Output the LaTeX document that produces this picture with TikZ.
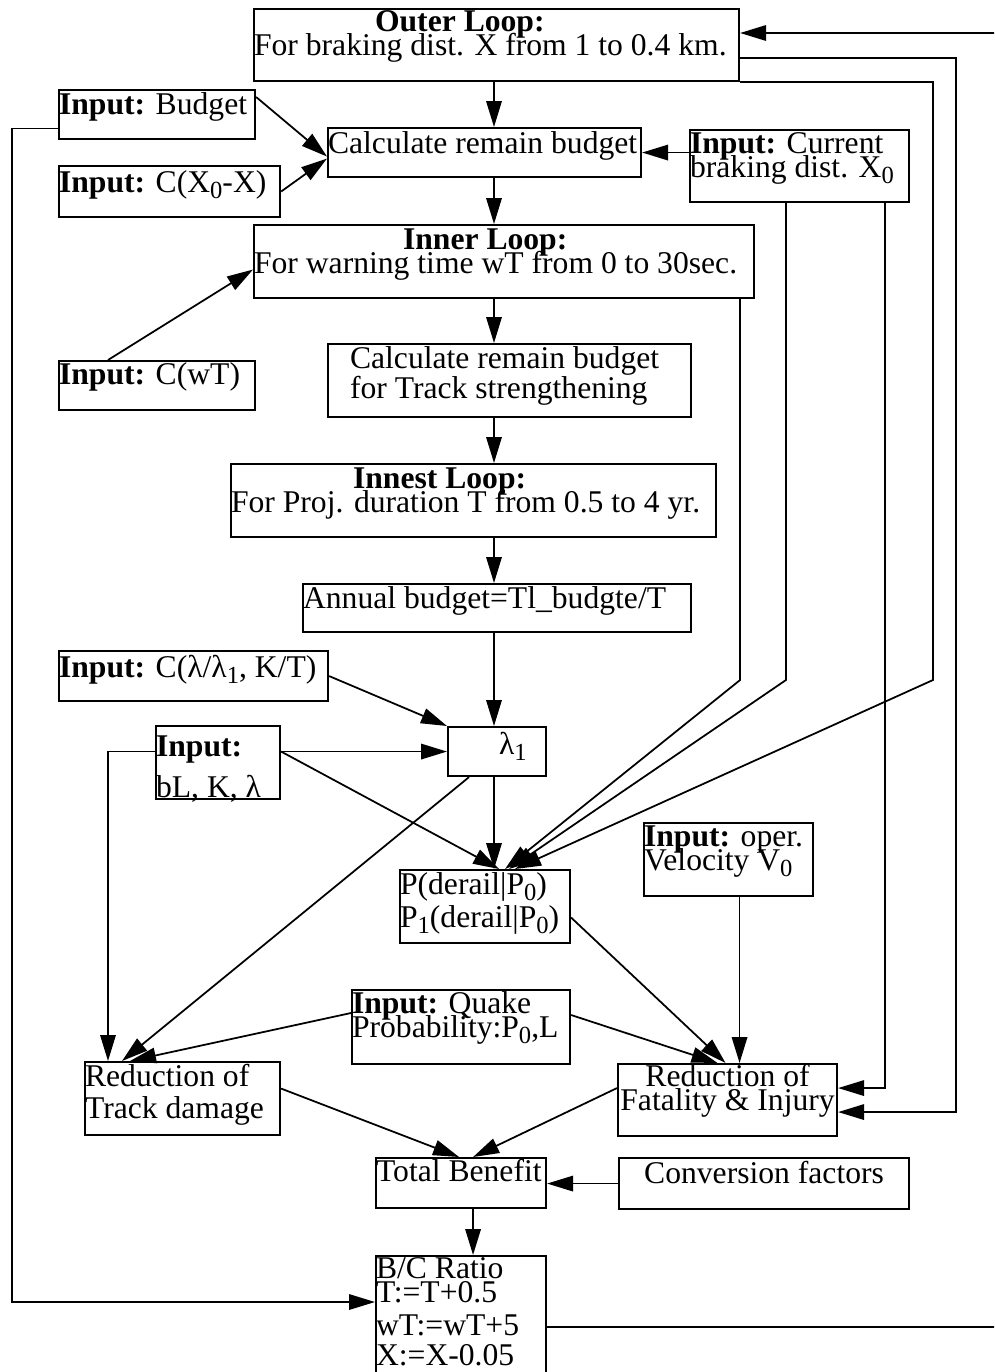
\documentclass[tikz,border=0pt]{standalone}
\usepackage{fontspec}
\setmainfont{Liberation Serif}
\usetikzlibrary{arrows.meta,calc}
\newlength{\unitpx}
\setlength{\unitpx}{0.02cm}
\newcommand{\subtxt}[1]{\raisebox{-6\unitpx}{\fontsize{14}{14}\selectfont #1}}
% width, height, first baseline, text
\newcommand{\boxtext}[4]{\parbox[c][#2\unitpx][t]{#1\unitpx}{\lineskiplimit=-100pt\rule{0pt}{#3\unitpx}#4}}

\begin{document}
\begin{tikzpicture}[x=0.02cm, y=-0.02cm,
  every node/.style={font=\fontsize{18}{13.8}\selectfont},
  blk/.style={draw, line width=1.2pt, inner sep=0pt, anchor=north west},
  link/.style={line width=1pt},
  arr/.style={link, -{Triangle[length=0.52cm,width=0.31cm]}}]
  \clip (0,0) rectangle (994,1372);

  % boxes
  \node[blk] (outer) at (253,8) {\boxtext{485}{72}{22}{\hspace*{121\unitpx}\textbf{Outer Loop:}\\For braking dist. X from 1 to 0.4 km.}};
  \node[blk] (budget) at (58,89) {\boxtext{196}{49}{24}{\textbf{Input:} Budget}};
  \node[blk] (calc) at (327,127) {\boxtext{313}{49}{25}{Calculate remain budget}};
  \node[blk] (cx) at (58,165) {\boxtext{221}{51}{26}{\textbf{Input:} C(X\subtxt{0}-X)}};
  \node[blk] (current) at (689,129) {\boxtext{219}{72}{23}{\textbf{Input:} Current\\braking dist. X\subtxt{0}}};
  \node[blk] (inner) at (253,224) {\boxtext{500}{73}{24}{\hspace*{149\unitpx}\textbf{Inner Loop:}\\For warning time wT from 0 to 30sec.}};
  \node[blk] (cwt) at (58,360) {\boxtext{196}{49}{23}{\textbf{Input:} C(wT)}};
  \node[blk] (calc2) at (327,343) {\boxtext{363}{73}{24}{\leftskip=22\unitpx Calculate remain budget\\[3.5pt]for Track strengthening}};
  \node[blk] (innest) at (230,463) {\boxtext{485}{73}{24}{\hspace*{122\unitpx}\textbf{Innest Loop:}\\For Proj. duration T from 0.5 to 4 yr.}};
  \node[blk] (annual) at (302,583) {\boxtext{388}{48}{24}{Annual budget=Tl\_budgte/T}};
  \node[blk] (clam) at (58,650) {\boxtext{269}{50}{26}{\textbf{Input:} C(λ/λ\subtxt{1}, K/T)}};
  \node[blk] (bl) at (155,725) {\boxtext{124}{73}{30}{\textbf{Input:}\\[10pt]bL, K, λ}};
  \node[blk] (lam1) at (447,726) {\boxtext{98}{49}{27}{\hspace*{51\unitpx}λ\subtxt{1}}};
  \node[blk] (pd) at (399,869) {\boxtext{170}{73}{24}{P(derail|P\subtxt{0})\\[5pt]P\subtxt{1}(derail|P\subtxt{0})}};
  \node[blk] (vel) at (643,822) {\boxtext{169}{73}{23}{\textbf{Input:} oper.\\Velocity V\subtxt{0}}};
  \node[blk] (quake) at (351,989) {\boxtext{218}{74}{23}{\textbf{Input:} Quake\\Probability:P\subtxt{0},L}};
  \node[blk] (track) at (84,1061) {\boxtext{195}{73}{24}{Reduction of\\[4.5pt]Track damage}};
  \node[blk] (fatal) at (617,1063) {\boxtext{219}{72}{22}{\centering Reduction of\\Fatality \& Injury}};
  \node[blk] (total) at (375,1157) {\boxtext{170}{50}{23}{Total Benefit}};
  \node[blk] (conv) at (618,1157) {\boxtext{290}{51}{25}{\centering Conversion factors}};
  \node[blk] (bc) at (375,1255) {\boxtext{170}{130}{22}{B/C Ratio\\T:=T+0.5\\[5pt]wT:=wT+5\\[3.5pt]X:=X-0.05}};

  % helper points
  \coordinate (axis) at (494,0);
  \coordinate (bend) at (0,680);
  \coordinate (lft) at (12,0);
  \coordinate (rail1) at (933,0);
  \coordinate (rail2) at (956,0);
  \coordinate (loopin) at (1000,33);
  \coordinate (innerout) at ($(inner.south east)+(-15,0)$);
  \coordinate (curout1) at ($(current.south west)+(97,0)$);
  \coordinate (curout2) at ($(current.south east)+(-25,0)$);
  \coordinate (outerout1) at ($(outer.east)+(0,13)$);
  \coordinate (fatin) at ($(fatal.east)+(0,12)$);
  \coordinate (velout) at ($(vel.south)+(11,0)$);
  \coordinate (bcdown) at ($(total.south)+(12,0)$);
  \coordinate (bcin) at ($(bc.north west)+(0,47)$);
  \coordinate (bcout) at ($(bc.north east)+(0,72)$);

  % main chain
  \draw[arr] (axis |- outer.south) -- (axis |- calc.north);
  \draw[arr] (axis |- calc.south) -- (axis |- inner.north);
  \draw[arr] (axis |- inner.south) -- (axis |- calc2.north);
  \draw[arr] (axis |- calc2.south) -- (axis |- innest.north);
  \draw[arr] (axis |- innest.south) -- (axis |- annual.north);
  \draw[arr] (axis |- annual.south) -- (axis |- lam1.north);
  \draw[arr] (axis |- lam1.south) -- (axis |- pd.north);

  % inputs
  \draw[arr] ($(budget.north east)+(0,8)$) -- ($(calc.west)+(0,4)$);
  \draw[arr] (cx.east) -- ($(calc.west)+(0,6)$);
  \draw[arr] (current.west |- calc.east) -- (calc.east);
  \draw[arr] ($(cwt.north west)+(50,0)$) -- ($(inner.west)+(0,8)$);
  \draw[arr] (clam.east) -- (lam1.north west);
  \draw[arr] (bl.east |- lam1.west) -- (lam1.west);
  \draw[arr] (bl.east |- lam1.west) -- ($(pd.north)+(14,0)$);
  \draw[arr] (bl.west |- lam1.west) -| ($(track.north west)+(24,0)$);
  \draw[arr] ($(lam1.south west)+(22,0)$) -- ($(track.north west)+(38,0)$);
  \draw[arr] ($(quake.north west)+(0,24)$) -- ($(track.north west)+(46,0)$);
  \draw[arr] ($(quake.north east)+(0,26)$) -- ($(fatal.north)+(-10,0)$);

  % lines from the right
  \draw[arr] (innerout) -- (innerout |- bend) -- ($(pd.north)+(20,0)$);
  \draw[arr] (curout1) -- (curout1 |- bend) -- ($(pd.north)+(24,0)$);
  \draw[arr] (outer.south east) -| (rail1 |- bend) -- ($(pd.north)+(30,0)$);
  \draw[arr] (curout2) |- ($(fatal.east)+(0,-12)$);
  \draw[arr] (outerout1) -| (rail2 |- fatin) -- (fatin);
  \draw[arr] (velout) -- (velout |- fatal.north);
  \draw[arr] ($(pd.east)+(0,11)$) -- ($(fatal.north)+(-2,0)$);

  % benefit and ratio
  \draw[arr] ($(track.east)+(0,-10)$) -- ($(total.north)+(-2,0)$);
  \draw[arr] ($(fatal.west)+(0,-12)$) -- ($(total.north)+(12,0)$);
  \draw[arr] (conv.west) -- (conv.west -| total.east);
  \draw[arr] (bcdown) -- (bcdown |- bc.north);
  \draw[arr] ($(budget.west)+(0,14)$) -| (lft |- bcin) -- (bcin);

  % loop back
  \draw[link] (bcout) -- (bcout -| loopin);
  \draw[arr] (loopin) -- (loopin -| outer.east);
\end{tikzpicture}
\end{document}
